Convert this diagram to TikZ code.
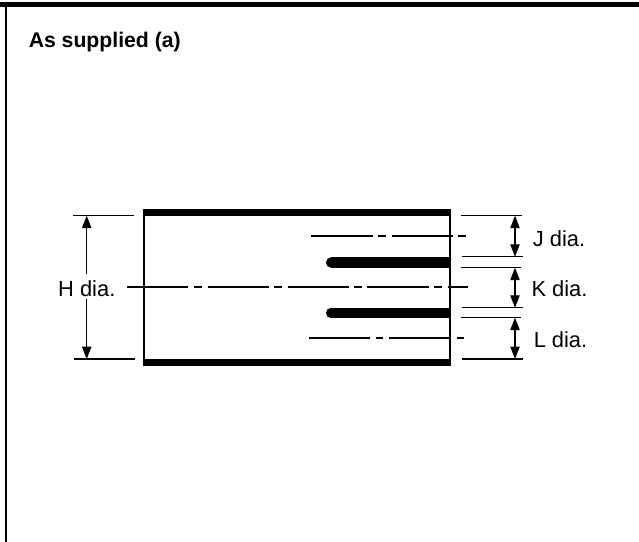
\documentclass[tikz,border=0pt]{standalone}
\usepackage{fontspec}
\setmainfont{Liberation Sans}
\usetikzlibrary{arrows.meta}
\tikzset{
  x=0.75pt,y=-0.75pt,
  dtip/.tip={Triangle[length=9.3pt,width=7pt]},
  thin line/.style={line width=0.85pt,black},
  wall/.style={line width=1.2pt,black},
  heavy/.style={line width=5pt,black},
  finger/.style={line width=7.8pt,black},
  centre/.style={line width=0.85pt,black},
  dim/.style={line width=0.85pt,black,dtip-dtip},
  lbl/.style={inner sep=0pt,font=\fontsize{16.4}{18}\selectfont,text=black},
  title/.style={inner sep=0pt,anchor=base west,font=\fontsize{15.9}{18}\selectfont\bfseries,text=black},
}
\begin{document}
\begin{tikzpicture}
\useasboundingbox (0,0) rectangle (639,542);
\fill[white] (0,0) rectangle (639,542);
% outer frame
\fill[black] (0,2.5) rectangle (639,7);
\fill[black] (4.5,2.5) rectangle (7,542);
\node[title] (ttl) at (28.5,48) {As supplied (a)};
% body
\coordinate (tl) at (142.7,212.3);
\coordinate (tr) at (450.5,212.3);
\coordinate (bl) at (142.7,362.3);
\coordinate (br) at (450.5,362.3);
\draw[heavy] (tl) -- (tr);
\draw[heavy] (bl) -- (br);
\draw[wall] (143.8,209) -- (143.8,365.6);
\draw[wall] (450,209) -- (450,365.6);
% fingers
\coordinate (f1a) at (331.2,262.5);
\coordinate (f1b) at (450,262.5);
\coordinate (f2a) at (331.2,313);
\coordinate (f2b) at (450,313);
\draw[finger] (f1a) -- (f1b);
\draw[finger] (f2a) -- (f2b);
\fill[black] (f1a) circle[radius=5.2];
\fill[black] (f2a) circle[radius=5.2];
% centre lines
\draw[centre] (127,287) -- (188,287) (194,287) -- (202,287) (208,287) -- (269,287) (274,287) -- (282,287) (288,287) -- (349,287) (354,287) -- (362,287) (367,287) -- (429,287) (434,287) -- (442,287) (448,287) -- (468,287);
\draw[centre] (311,236) -- (373,236) (378,236) -- (386,236) (392,236) -- (453,236) (458,236) -- (466,236);
\draw[centre] (309,338) -- (370,338) (376,338) -- (383,338) (389,338) -- (451,338) (457,338) -- (464,338);
% extension lines left
\draw[thin line] (73,215.7) -- (134,215.7);
\draw[thin line] (74,359) -- (135,359);
% right extension
\draw[thin line] (461,215.7) -- (522,215.7);
\draw[thin line] (462,256.7) -- (523,256.7);
\draw[thin line] (461,267.7) -- (521,267.7);
\draw[thin line] (462,307.7) -- (523,307.7);
\draw[thin line] (461,317.7) -- (521,317.7);
\draw[thin line] (462,359) -- (523,359);
% labels
\node[lbl] (h) at (86.8,288.5) {H dia.};
\node[lbl] (j) at (559,238.5) {J dia.};
\node[lbl] (k) at (559.5,289) {K dia.};
\node[lbl] (l) at (560.5,340) {L dia.};
% dimension arrows
\coordinate (ht) at (86.7,215.7);
\coordinate (hb) at (86.7,359);
\draw[thin line,dtip-,shorten >=5pt] (ht) -- (h.north -| ht);
\draw[thin line,-dtip,shorten <=2pt] (h.south -| hb) -- (hb);
\coordinate (jt) at (515,215.7);
\coordinate (jb) at (515,256.7);
\coordinate (kt) at (515,267.7);
\coordinate (kb) at (515,307.7);
\coordinate (lt) at (515,317.7);
\coordinate (lb) at (515,359);
\draw[dim] (jt) -- (jb);
\draw[dim] (kt) -- (kb);
\draw[dim] (lt) -- (lb);
\end{tikzpicture}
\end{document}
